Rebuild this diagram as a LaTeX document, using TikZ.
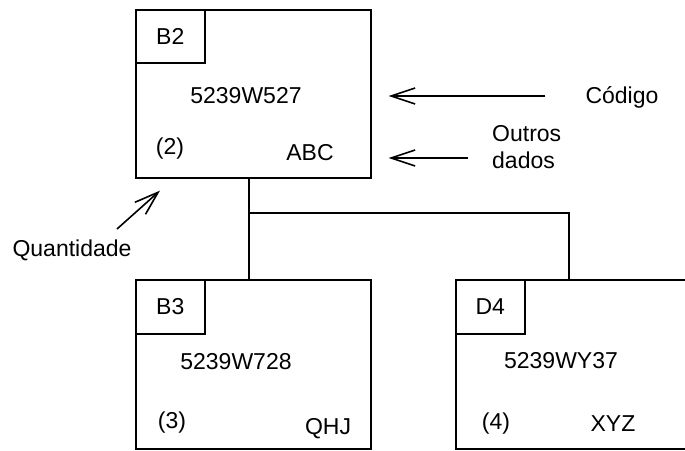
\documentclass[tikz,border=0pt]{standalone}
\usepackage{fontspec}
\setmainfont{Liberation Sans}
\usetikzlibrary{arrows.meta,positioning}

\begin{document}
\begin{tikzpicture}[
    x=1pt, y=-1pt,
    every node/.style={font=\fontsize{23}{27}\selectfont},
    part/.style={draw, line width=1.6pt, minimum width=235pt, minimum height=169pt, anchor=north west, inner sep=0pt},
    tag/.style={draw, line width=1.6pt, minimum width=69pt, minimum height=54pt, anchor=north west, inner sep=0pt},
    txt/.style={anchor=base, inner sep=0pt},
    link/.style={line width=1.6pt},
    arrow/.style={-{Straight Barb[length=24pt,width=16pt]}, line width=1.6pt}
]
    \useasboundingbox (0,0) rectangle (685,450);

    % Top part
    \node[part, minimum height=168pt] (top) at (135,9) {};
    \node[tag, minimum height=53pt] (b2) at (top.north west) {B2};
    \node[txt] (codetop) at (246,103) {5239W527};
    \node[txt] (qtytop) at (170,154) {(2)};
    \node[txt] (datatop) at (310,160) {ABC};

    % Lower left part
    \node[part] (left) at (135,279) {};
    \node[tag] (b3) at (left.north west) {B3};
    \node[txt] (codeleft) at (236,369) {5239W728};
    \node[txt] (qtyleft) at (172,428) {(3)};
    \node[txt] (dataleft) at (328,434) {QHJ};

    % Lower right part (runs off the page)
    \node[part] (right) at (455,279) {};
    \node[tag] (d4) at (right.north west) {D4};
    \node[txt] (coderight) at (561,368) {5239WY37};
    \node[txt] (qtyright) at (496,429) {(4)};
    \node[txt] (dataright) at (613,431) {XYZ};

    % Tree lines
    \coordinate (split) at (248,213);
    \draw[link] ([xshift=-4.5pt]top.south) -- ([xshift=-4.5pt]left.north);
    \draw[link] (split) -| ([xshift=-4.5pt]right.north);

    % Captions
    \node[txt] (codigo) at (622,103) {Código};
    \node[anchor=base west, align=left, inner sep=0pt] (outros) at (492,168) {Outros\\dados};
    \node[txt] (quant) at (72,256) {Quantidade};

    % Pointers
    \coordinate (dadostail) at (468,158);
    \coordinate (quanttail) at (117,229);
    \draw[arrow] ([xshift=-40pt,yshift=7pt]codigo.base west) -- ([xshift=17pt,yshift=7pt]top.east |- codigo.base west);
    \draw[arrow] (dadostail) -- ([xshift=17pt]top.east |- dadostail);
    \draw[arrow] (quanttail) -- ([shift={(25,12)}]top.south west);
\end{tikzpicture}
\end{document}
